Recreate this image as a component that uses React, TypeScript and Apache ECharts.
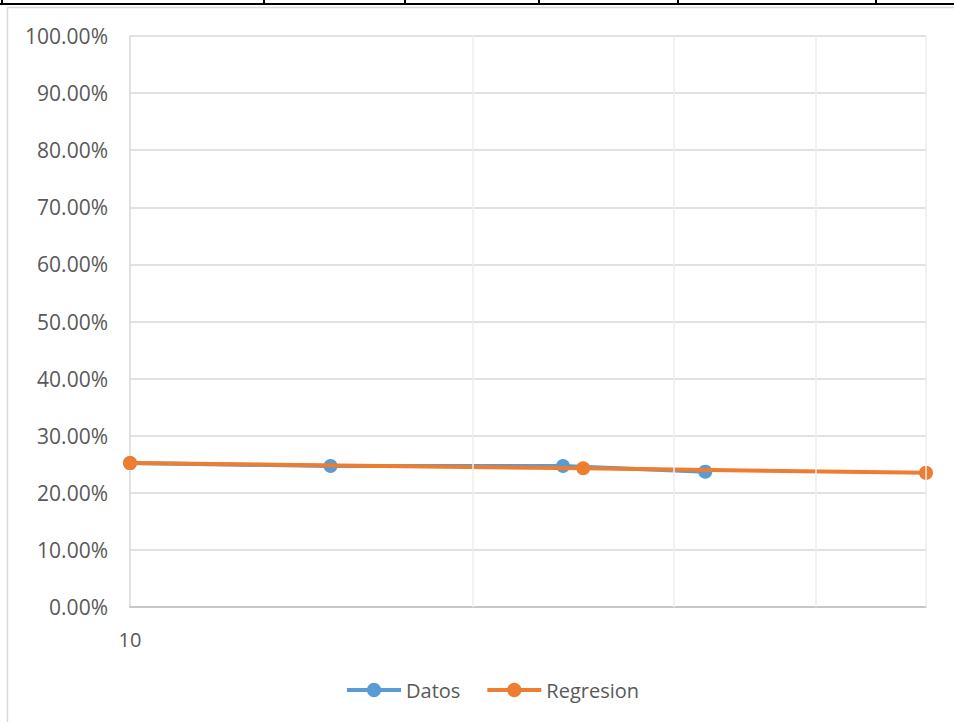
import React, { useEffect, useRef } from "react";
import * as echarts from "echarts";

// Measured points (x on a log scale, y in percent)
const datosX = [10, 15, 24, 32];
const datosY = [25.2, 24.7, 24.7, 23.7];
const regresionX = [10, 25, 50];
const regresionY = [25.2, 24.3, 23.5];

// Axis setup
const xMin = 10;
const xMax = 50;
const xGridValues = [20, 30, 40, 50];
const yMin = 0;
const yMax = 100;
const yStep = 10;

// Column dividers of the sheet row above the chart
const sheetColumnEdges = [2, 264, 405, 539, 678, 876];

const FONT = "'Open Sans', 'Noto Sans', sans-serif";
const BLUE = "#5B9BD5";
const ORANGE = "#ED7D31";
const TEXT = "#595959";

export default function App() {
  const ref = useRef<HTMLDivElement>(null);

  useEffect(() => {
    if (!ref.current) return;
    const chart = echarts.init(ref.current, null, { renderer: "svg" });

    const pairs = (xs: number[], ys: number[]) => xs.map((x, i) => [x, ys[i]]);

    const graphics: any[] = [
      // chart object frame
      {
        type: "rect",
        shape: { x: 7.5, y: 7.5, width: 1000, height: 800 },
        style: { fill: "none", stroke: "#d9d9d9", lineWidth: 1.5 },
        silent: true,
        z: -10,
      },
      // sheet row border
      {
        type: "line",
        shape: { x1: 0, y1: 4, x2: 954, y2: 4 },
        style: { stroke: "#000", lineWidth: 2 },
        silent: true,
      },
      ...sheetColumnEdges.map((x) => ({
        type: "line",
        shape: { x1: x, y1: 0, x2: x, y2: 4 },
        style: { stroke: "#000", lineWidth: 2 },
        silent: true,
      })),
    ];

    chart.setOption({
      animation: false,
      backgroundColor: "#ffffff",
      textStyle: { fontFamily: FONT },
      graphic: graphics,
      grid: { left: 130, right: 28, top: 36, bottom: 115 },
      legend: {
        data: ["Datos", "Regresion"],
        left: 345,
        top: 680,
        padding: 0,
        itemWidth: 54,
        itemHeight: 18,
        itemGap: 25,
        lineStyle: { width: 4 },
        textStyle: { fontFamily: FONT, fontSize: 20, color: TEXT },
      },
      xAxis: {
        type: "log",
        logBase: 10,
        min: xMin,
        max: xMax,
        axisLine: { show: true, lineStyle: { color: "#bfbfbf", width: 1.5 } },
        axisTick: { show: false },
        splitLine: { show: false },
        axisLabel: {
          showMaxLabel: false,
          margin: 22,
          fontFamily: FONT,
          fontSize: 20,
          color: TEXT,
        },
      },
      yAxis: {
        type: "value",
        min: yMin,
        max: yMax,
        interval: yStep,
        axisLine: { show: true, lineStyle: { color: "#d9d9d9", width: 1.5 } },
        axisTick: { show: false },
        splitLine: { show: true, lineStyle: { color: "#d9d9d9", width: 1.5 } },
        axisLabel: {
          margin: 22,
          fontFamily: FONT,
          fontSize: 21,
          color: TEXT,
          formatter: (v: number) => `${v.toFixed(2)}%`,
        },
      },
      series: [
        {
          name: "gridX",
          type: "line",
          data: pairs(regresionX, regresionY),
          symbol: "none",
          lineStyle: { opacity: 0 },
          silent: true,
          z: 1,
          markLine: {
            silent: true,
            symbol: "none",
            label: { show: false },
            lineStyle: { color: "#eeeeee", type: "solid", width: 1.5 },
            data: xGridValues.map((v) => ({ xAxis: v })),
          },
        },
        {
          name: "Datos",
          type: "line",
          data: pairs(datosX, datosY),
          symbol: "circle",
          symbolSize: 14,
          color: BLUE,
          lineStyle: { color: BLUE, width: 4 },
          itemStyle: { color: BLUE },
          z: 3,
        },
        {
          name: "Regresion",
          type: "line",
          data: pairs(regresionX, regresionY),
          symbol: "circle",
          symbolSize: 14,
          color: ORANGE,
          lineStyle: { color: ORANGE, width: 4 },
          itemStyle: { color: ORANGE },
          z: 4,
        },
      ],
    });

    return () => chart.dispose();
  }, []);

  return (
    <div
      ref={ref}
      style={{ position: "fixed", left: 0, top: 0, width: 954, height: 722 }}
    />
  );
}
